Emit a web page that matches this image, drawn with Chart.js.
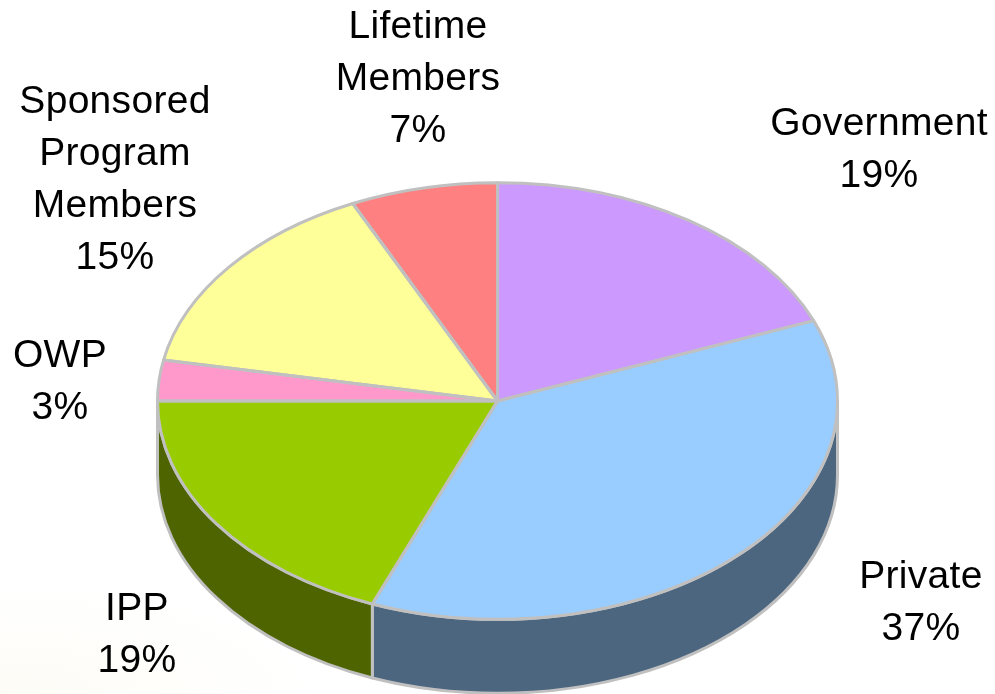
<!DOCTYPE html>
<html>
<head>
<meta charset="utf-8">
<title>Membership</title>
<script src="https://cdn.jsdelivr.net/npm/chart.js@4"></script>
<style>
  html, body { margin: 0; padding: 0; width: 995px; height: 694px; overflow: hidden; }
  body { background: radial-gradient(ellipse 320px 110px at 0 694px, #fdfcf6 0%, #ffffff 100%); }
  canvas { display: block; }
</style>
</head>
<body>
<canvas id="pie" width="995" height="694"></canvas>
<script>
const categories = ["Government", "Private", "IPP", "OWP", "Sponsored Program Members", "Lifetime Members"]
const shares = [19, 37, 19, 3, 15, 7]
const topColors = ["#cc99ff", "#99ccff", "#99cc00", "#ff99cc", "#ffff99", "#ff8080"]
const wallColors = ["#664d80", "#4d6680", "#4d6400", "#804d66", "#80804d", "#804040"]
const labelLines = [["Government"], ["Private"], ["IPP"], ["OWP"], ["Sponsored", "Program", "Members"], ["Lifetime", "Members"]]
const labelX = [879, 921, 137, 60, 115, 418]
const labelY = [135, 588, 620, 367, 113, 38]

const TILT = 0.642
const CENTER_Y = 401
const DEPTH = 74
const EDGE = "#c0c0c0"

// the library lays out a round pie, this squashes it and adds the side wall
const tiltPlugin = {
  id: "tilt",
  beforeDatasetsDraw(chart) {
    const ctx = chart.ctx
    const arcs = chart.getDatasetMeta(0).data

    ctx.save()
    ctx.lineWidth = 3
    ctx.lineJoin = "round"
    ctx.strokeStyle = EDGE
    arcs.forEach((arc, i) => {
      // only the front half of the rim is visible
      const from = Math.max(arc.startAngle, 0)
      const to = Math.min(arc.endAngle, Math.PI)
      if (to <= from) return
      const rx = arc.outerRadius
      const ry = rx * TILT
      ctx.beginPath()
      ctx.ellipse(arc.x, CENTER_Y, rx, ry, 0, from, to)
      ctx.ellipse(arc.x, CENTER_Y + DEPTH, rx, ry, 0, to, from, true)
      ctx.closePath()
      ctx.fillStyle = wallColors[i]
      ctx.fill()
      ctx.stroke()
    })
    ctx.restore()

    ctx.save()
    ctx.translate(0, CENTER_Y - arcs[0].y * TILT)
    ctx.scale(1, TILT)
  },
  afterDatasetsDraw(chart) {
    const ctx = chart.ctx
    ctx.restore()

    ctx.save()
    ctx.lineWidth = 3
    ctx.lineJoin = "round"
    ctx.strokeStyle = EDGE
    chart.getDatasetMeta(0).data.forEach(arc => {
      const rx = arc.outerRadius
      ctx.beginPath()
      ctx.moveTo(arc.x, CENTER_Y)
      ctx.ellipse(arc.x, CENTER_Y, rx, rx * TILT, 0, arc.startAngle, arc.endAngle)
      ctx.closePath()
      ctx.stroke()
    })
    ctx.restore()
  },
  afterDraw(chart) {
    const ctx = chart.ctx
    ctx.save()
    ctx.font = "39px 'Liberation Sans', Arial, sans-serif"
    ctx.letterSpacing = "0.3px"
    ctx.fillStyle = "#000000"
    ctx.textAlign = "center"
    ctx.textBaseline = "alphabetic"
    categories.forEach((name, i) => {
      const lines = labelLines[i].concat(shares[i] + "%")
      lines.forEach((line, n) => {
        ctx.fillText(line, labelX[i], labelY[i] + n * 52)
      })
    })
    ctx.restore()
  }
}

new Chart(document.getElementById("pie").getContext("2d"), {
  type: "pie",
  data: {
    labels: categories,
    datasets: [{
      data: shares,
      backgroundColor: topColors,
      borderWidth: 0
    }]
  },
  options: {
    responsive: false,
    animation: false,
    radius: 340,
    layout: { padding: 0 },
    plugins: {
      legend: { display: false },
      tooltip: { enabled: false }
    }
  },
  plugins: [tiltPlugin]
})
</script>
</body>
</html>
